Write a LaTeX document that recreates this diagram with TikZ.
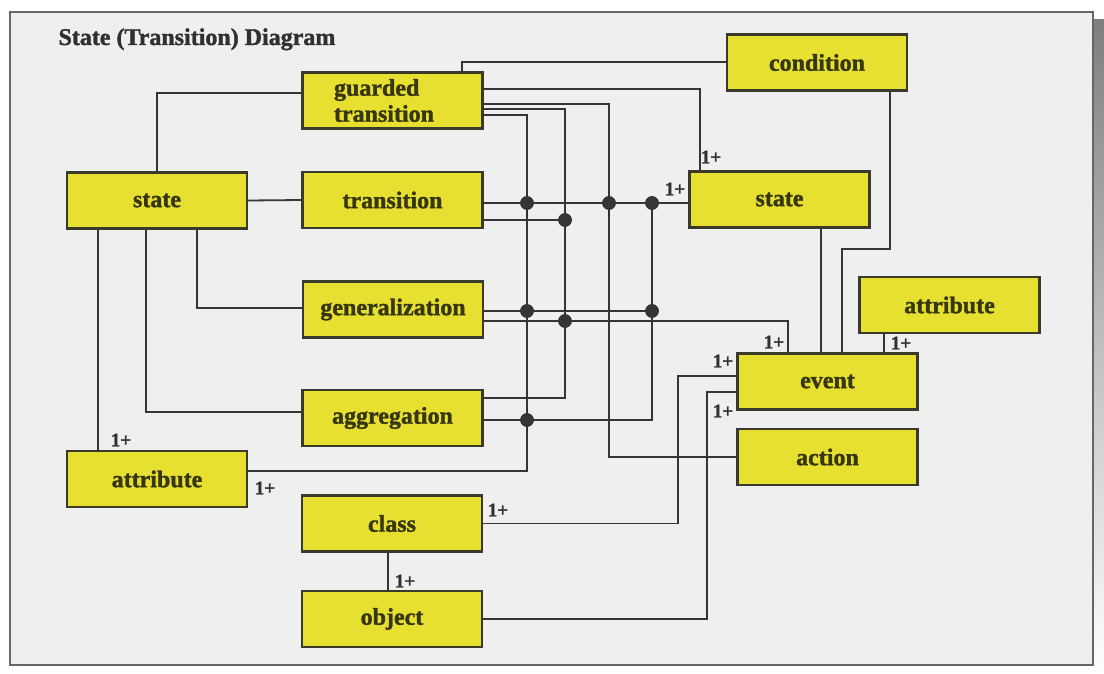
\documentclass[tikz,border=0pt]{standalone}
\usepackage{fontspec}
\setmainfont{Liberation Serif}
\newfontfamily\heavyfont{Liberation Serif}[BoldFeatures={FakeBold=1.4}]
\usetikzlibrary{calc}
\definecolor{boxfill}{HTML}{E8E030}
\definecolor{boxline}{HTML}{3A3A2A}
\definecolor{boxtext}{HTML}{36360F}
\definecolor{wirecol}{HTML}{353535}
\definecolor{panel}{HTML}{EFEFEF}
\definecolor{shade}{HTML}{222222}
\definecolor{titlecol}{HTML}{303030}
\begin{document}
\begin{tikzpicture}[x=1pt,y=-1pt,
  box/.style={draw=boxline, line width=2.4pt, fill=boxfill, minimum width=180pt,
    minimum height=56pt, inner sep=0pt, text=boxtext,
    font=\fontsize{24}{26}\heavyfont\bfseries},
  wire/.style={draw=wirecol, line width=1.8pt},
  junction/.style={circle, fill=wirecol, draw=black!80, line width=0.8pt,
    inner sep=0pt, minimum size=13pt},
  mult/.style={font=\fontsize{19}{21}\heavyfont\bfseries, text=titlecol, inner sep=0pt}]

\useasboundingbox (0,0) rectangle (1104,674);
\fill[white] (0,0) rectangle (1104,674);

% panel with drop shadow on the right and bottom
\fill[shade] (18,20) rectangle (1104,674);
\draw[fill=panel, draw=black!60, line width=1.5pt] (10,12) rectangle (1093,665);

\node[anchor=base west, text=titlecol, font=\fontsize{24}{28}\heavyfont\bfseries]
  (title) at (55,45) {State (Transition) Diagram};

% classes
\node[box, text width=117pt, inner xsep=31pt, align=left] (gt) at (392.5,100.5) {guarded\\transition};
\node[box] (cond) at (817,62.5)    {condition};
\node[box] (st1)  at (157,200.5)   {state};
\node[box] (tr)   at (392.5,200)   {transition};
\node[box] (st2)  at (779.5,199.5) {state};
\node[box] (gen)  at (393,309.5)   {generalization};
\node[box] (at2)  at (949.5,305)   {attribute};
\node[box] (ev)   at (827.5,381.5) {event};
\node[box] (agg)  at (392.5,418)   {aggregation};
\node[box] (act)  at (827.5,457)   {action};
\node[box] (at1)  at (157,479)     {attribute};
\node[box] (cls)  at (392,523.5)   {class};
\node[box] (obj)  at (392,619)     {object};

% vertical buses and bends
\coordinate (busA) at (527,300);
\coordinate (busB) at (565,300);
\coordinate (busC) at (609,300);
\coordinate (busE) at (678,450);
\coordinate (busF) at (707,500);

% junctions
\coordinate (jA1) at (527,203);
\coordinate (jB1) at (565,220);
\coordinate (jC1) at (609,203);
\coordinate (jD1) at (652,203);
\coordinate (jA2) at (527,311);
\coordinate (jB2) at (565,321);
\coordinate (jD2) at (652,311);
\coordinate (jA3) at (527,420);

% connectors from the left state
\draw[wire] (st1.north) |- ([yshift=7.5pt]gt.west);
\draw[wire] (st1.east) -- (tr.west);
\draw[wire] ([xshift=40pt]st1.south) |- ([yshift=1.5pt]gen.west);
\draw[wire] ([xshift=-11pt]st1.south) |- ([yshift=6pt]agg.west);
\draw[wire] ([xshift=-59pt]st1.south) -- ([xshift=-59pt]at1.north);

% bus lines from guarded transition
\draw[wire] ([yshift=8pt]at1.east) -| (busA) |- ([yshift=-14.5pt]gt.east);
\draw[wire] ([yshift=-8.5pt]gt.east) -| (busB) |- ([yshift=20pt]agg.east);
\draw[wire] ([yshift=-3.5pt]gt.east) -| (busC) |- (act.west);
\draw[wire] ([yshift=11.5pt]gt.east) -| ([xshift=-79.5pt]st2.north);
\draw[wire] ([xshift=69.5pt]gt.north) |- ([yshift=0.5pt]cond.west);

% transition, generalization, aggregation
\draw[wire] ([yshift=-3pt]tr.east) -- ([yshift=-3.5pt]st2.west);
\draw[wire] ([yshift=-20pt]tr.east) -- (jB1);
\draw[wire] (jD1) |- ([yshift=-2pt]agg.east);
\draw[wire] ([yshift=-1.5pt]gen.east) -- (jD2);
\draw[wire] ([yshift=-11.5pt]gen.east) -| ([xshift=-39.5pt]ev.north);

% event connectors
\draw[wire] ([xshift=73pt]cond.south) -- ++(0,157) -| ([xshift=14.5pt]ev.north);
\draw[wire] ([xshift=41.5pt]st2.south) -- ([xshift=-6.5pt]ev.north);
\draw[wire] ([xshift=-65.5pt]at2.south) -- ([xshift=56.5pt]ev.north);
\draw[wire] ([yshift=5.5pt]ev.west) -| (busE) |- (cls.east);
\draw[wire] ([yshift=-10.5pt]ev.west) -| (busF) |- (obj.east);
\draw[wire] ([xshift=-4pt]cls.south) -- ([xshift=-4pt]obj.north);

% junction dots
\foreach \j in {jA1,jB1,jC1,jD1,jA2,jB2,jD2,jA3}
  \node[junction] at (\j) {};

% multiplicities
\node[mult] (m1)  at (711,157) {1+};
\node[mult] (m2)  at (675,189) {1+};
\node[mult] (m3)  at (774,342) {1+};
\node[mult] (m4)  at (901,343) {1+};
\node[mult] (m5)  at (723,361) {1+};
\node[mult] (m6)  at (723,411) {1+};
\node[mult] (m7)  at (121,440) {1+};
\node[mult] (m8)  at (265,488) {1+};
\node[mult] (m9)  at (498,510) {1+};
\node[mult] (m10) at (405,581) {1+};
\end{tikzpicture}
\end{document}
